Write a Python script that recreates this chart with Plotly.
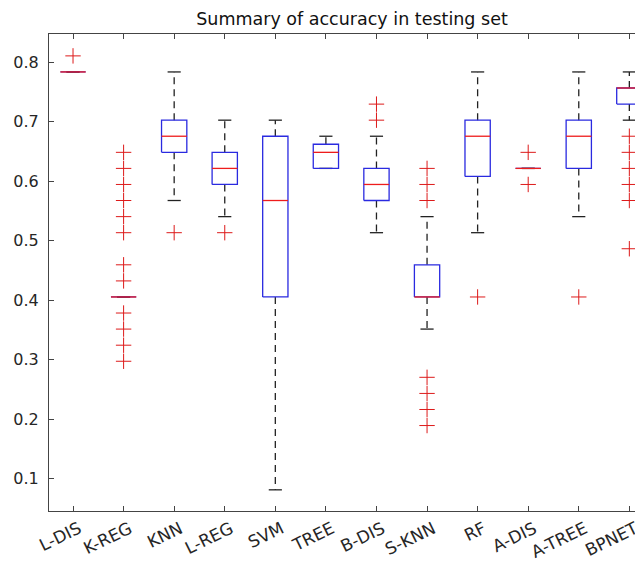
import plotly.graph_objects as go

categories = ["L-DIS", "K-REG", "KNN", "L-REG", "SVM", "TREE",
              "B-DIS", "S-KNN", "RF", "A-DIS", "A-TREE", "BPNET"]

q1 =     [0.7838, 0.4054, 0.6486, 0.5946, 0.4054, 0.6216, 0.5676, 0.4054, 0.6081, 0.6216, 0.6216, 0.7297]
median = [0.7838, 0.4054, 0.6757, 0.6216, 0.5676, 0.6486, 0.5946, 0.4054, 0.6757, 0.6216, 0.6757, 0.7568]
q3 =     [0.7838, 0.4054, 0.7027, 0.6486, 0.6757, 0.6622, 0.6216, 0.4595, 0.7027, 0.6216, 0.7027, 0.7568]
lower_whisker = [0.7838, 0.4054, 0.5676, 0.5405, 0.0811, 0.6216, 0.5135, 0.3514, 0.5135, 0.6216, 0.5405, 0.7027]
upper_whisker = [0.7838, 0.4054, 0.7838, 0.7027, 0.7027, 0.6757, 0.6757, 0.5405, 0.7838, 0.6216, 0.7838, 0.7838]

outliers = [
    [0.8108],
    [0.6486, 0.6216, 0.5946, 0.5676, 0.5405, 0.5135, 0.4595, 0.4324, 0.3784, 0.3514, 0.3243, 0.2973],
    [0.5135],
    [0.5135],
    [],
    [],
    [0.7297, 0.7027],
    [0.6216, 0.5946, 0.5676, 0.2703, 0.2432, 0.2162, 0.1892],
    [0.4054],
    [0.6486, 0.5946],
    [0.4054],
    [0.6757, 0.6486, 0.6216, 0.5946, 0.5676, 0.4865],
]

y_ticks = [0.1, 0.2, 0.3, 0.4, 0.5, 0.6, 0.7, 0.8]

BOX_HALF = 0.25
CAP_HALF = 0.13
LABEL_SHIFT = 0.12
X_RANGE = [-0.475, 11.27]
FONT = "DejaVu Sans, Liberation Sans, sans-serif"

wx, wy, cx, cy, bx, by, mx, my, ox, oy = ([] for _ in range(10))
for i in range(len(categories)):
    wx += [i, i, None, i, i, None]
    wy += [q3[i], upper_whisker[i], None, q1[i], lower_whisker[i], None]
    cx += [i - CAP_HALF, i + CAP_HALF, None, i - CAP_HALF, i + CAP_HALF, None]
    cy += [upper_whisker[i], upper_whisker[i], None, lower_whisker[i], lower_whisker[i], None]
    bx += [i - BOX_HALF, i + BOX_HALF, i + BOX_HALF, i - BOX_HALF, i - BOX_HALF, None]
    by += [q1[i], q1[i], q3[i], q3[i], q1[i], None]
    mx += [i - BOX_HALF, i + BOX_HALF, None]
    my += [median[i], median[i], None]
    for v in outliers[i]:
        ox.append(i)
        oy.append(v)

fig = go.Figure()
fig.add_trace(go.Scatter(x=wx, y=wy, mode="lines", hoverinfo="skip",
                         line=dict(color="#222222", width=1.3, dash="7px,5px")))
fig.add_trace(go.Scatter(x=cx, y=cy, mode="lines", hoverinfo="skip",
                         line=dict(color="#222222", width=1.3)))
fig.add_trace(go.Scatter(x=bx, y=by, mode="lines", hoverinfo="skip",
                         line=dict(color="#2a2ae0", width=1.3)))
fig.add_trace(go.Scatter(x=mx, y=my, mode="lines", hoverinfo="skip",
                         line=dict(color="#ee1c1c", width=1.3)))
fig.add_trace(go.Scatter(x=ox, y=oy, mode="markers", xaxis="x2",
                         marker=dict(symbol="cross-thin-open", size=11,
                                     color="#dd1a1a",
                                     line=dict(color="#dd1a1a", width=1.0))))

# the page body adds an 8px offset, so the figure is sized to end at the window edges
fig.update_layout(
    width=635, height=560,
    margin=dict(l=41, r=0, t=26, b=57),
    paper_bgcolor="white", plot_bgcolor="white",
    showlegend=False,
    font=dict(family=FONT, color="#262626", size=16),
    title=dict(text="Summary of accuracy in testing set",
               x=(352 - 8) / 635, xref="container", xanchor="center",
               y=1 - 11 / 560, yref="container", yanchor="middle",
               font=dict(family=FONT, size=17.5, color="#111111")),
    xaxis=dict(
        range=X_RANGE, tickmode="array",
        tickvals=list(range(len(categories))), showticklabels=False,
        ticks="inside", ticklen=5, tickcolor="#444444",
        showline=True, linecolor="#444444", linewidth=1, mirror="ticks",
        showgrid=False, zeroline=False, automargin=False,
    ),
    xaxis2=dict(
        overlaying="x", anchor="y", side="bottom", range=X_RANGE,
        tickmode="array",
        tickvals=[i + LABEL_SHIFT for i in range(len(categories))],
        ticktext=categories, tickangle=-26, ticks="",
        showline=False, showgrid=False, zeroline=False,
        tickfont=dict(size=17), ticklabelstandoff=4, automargin=False,
    ),
    yaxis=dict(
        range=[0.0455, 0.8476], tickmode="array", tickvals=y_ticks,
        ticktext=[f"{v:.1f}" for v in y_ticks],
        ticks="inside", ticklen=5, tickcolor="#444444",
        showline=True, linecolor="#444444", linewidth=1,
        showgrid=False, zeroline=False, tickfont=dict(size=16),
        ticklabelstandoff=6, automargin=False,
    ),
)

fig.write_html("out.html")
